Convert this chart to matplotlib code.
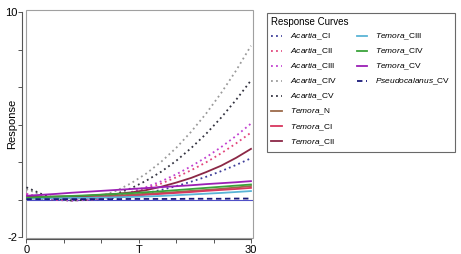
import matplotlib
matplotlib.use('Agg')
import matplotlib.pyplot as plt
from matplotlib.lines import Line2D
from matplotlib.patches import Rectangle

plt.rcParams['font.family'] = 'Liberation Sans'
plt.rcParams['mathtext.fontset'] = 'custom'
plt.rcParams['mathtext.it'] = 'Liberation Sans:italic'
plt.rcParams['mathtext.rm'] = 'Liberation Sans'

# time grid and response values
T = [0, 2, 4, 6, 8, 10, 12, 14, 16, 18, 20, 22, 24, 26, 28, 30]

acartia_CI = [0.20, 0.05, -0.03, -0.05, -0.03, 0.01, 0.09, 0.20, 0.34, 0.51, 0.71, 0.95, 1.21, 1.51, 1.84, 2.20]
acartia_CII = [0.30, 0.08, -0.02, -0.05, -0.02, 0.05, 0.18, 0.35, 0.58, 0.85, 1.18, 1.56, 1.98, 2.46, 2.99, 3.57]
acartia_CIII = [0.30, 0.10, 0.00, -0.05, -0.02, 0.06, 0.21, 0.40, 0.66, 0.97, 1.34, 1.77, 2.25, 2.79, 3.39, 4.05]
acartia_CIV = [0.55, 0.25, 0.03, -0.05, 0.01, 0.18, 0.46, 0.87, 1.38, 2.01, 2.75, 3.61, 4.58, 5.67, 6.87, 8.20]
acartia_CV = [0.65, 0.30, 0.05, -0.05, -0.02, 0.09, 0.30, 0.60, 1.00, 1.48, 2.06, 2.74, 3.50, 4.36, 5.31, 6.35]
temora_N = [0.05, 0.06, 0.08, 0.11, 0.14, 0.17, 0.21, 0.26, 0.31, 0.35, 0.40, 0.46, 0.51, 0.57, 0.64, 0.72]
temora_CI = [0.20, 0.15, 0.12, 0.10, 0.10, 0.12, 0.15, 0.19, 0.25, 0.30, 0.35, 0.40, 0.46, 0.51, 0.56, 0.62]
temora_CII = [0.15, 0.15, 0.16, 0.17, 0.20, 0.25, 0.30, 0.38, 0.50, 0.68, 0.90, 1.15, 1.46, 1.80, 2.22, 2.70]
temora_CIII = [0.05, 0.06, 0.07, 0.08, 0.09, 0.10, 0.12, 0.14, 0.16, 0.19, 0.23, 0.27, 0.31, 0.35, 0.40, 0.45]
temora_CIV = [0.10, 0.13, 0.16, 0.19, 0.22, 0.26, 0.30, 0.34, 0.39, 0.44, 0.50, 0.56, 0.62, 0.68, 0.74, 0.80]
temora_CV = [0.20, 0.25, 0.30, 0.36, 0.41, 0.46, 0.51, 0.56, 0.61, 0.66, 0.71, 0.76, 0.82, 0.87, 0.92, 0.98]
pseudo_CV = [0.02, 0.02, 0.02, 0.02, 0.02, 0.02, 0.02, 0.03, 0.03, 0.03, 0.03, 0.04, 0.04, 0.04, 0.05, 0.05]

series = [
    ('Acartia', '_CI', acartia_CI, '#3d3d99', 'dot'),
    ('Acartia', '_CII', acartia_CII, '#e2457c', 'dot'),
    ('Acartia', '_CIII', acartia_CIII, '#c23fd0', 'dot'),
    ('Acartia', '_CIV', acartia_CIV, '#9a9a9a', 'dot'),
    ('Acartia', '_CV', acartia_CV, '#333340', 'dot'),
    ('Temora', '_N', temora_N, '#9c6a4a', 'solid'),
    ('Temora', '_CI', temora_CI, '#d8365e', 'solid'),
    ('Temora', '_CII', temora_CII, '#8b2846', 'solid'),
    ('Temora', '_CIII', temora_CIII, '#5ab4d6', 'solid'),
    ('Temora', '_CIV', temora_CIV, '#3aa33a', 'solid'),
    ('Temora', '_CV', temora_CV, '#9b1fb5', 'solid'),
    ('Pseudocalanus', '_CV', pseudo_CV, '#1a1a7a', 'dash'),
]
styles = {'dot': (0, (1, 1.8)), 'solid': '-', 'dash': (0, (3, 2))}

fig = plt.figure(figsize=(4.61, 2.54), dpi=100)
ax = fig.add_axes([26 / 461, 1 - 238 / 254, 227 / 461, 228 / 254])

ax.axhline(0, color='#5050c8', linewidth=0.8, zorder=1)
handles, labels = [], []
for genus, stage, vals, col, ls in series:
    ln, = ax.plot(T, vals, color=col, linestyle=styles[ls], linewidth=1.3)
    handles.append(ln)
    labels.append(r'$\it{' + genus + '}$' + stage)

# pad with blank entries so the first column holds eight rows, as in the reference
for _ in range(4):
    handles.append(Line2D([], [], color='none'))
    labels.append('')

ax.set_xlim(-0.05, 30.27)
ax.set_ylim(-2.053, 10.107)
ax.set_xticks([0, 5, 10, 15, 20, 25, 30])
ax.set_xticklabels(['0', '', '', 'T', '', '', '30'])
ax.set_yticks([-2, 0, 2, 4, 6, 8, 10])
ax.set_yticklabels(['-2', '', '', '', '', '', '10'], rotation=90, va='center')
ax.tick_params(labelsize=8, length=3, width=0.7, color='#555555', pad=1)
ax.tick_params(axis='y', pad=0)
ax.set_ylabel('Response', fontsize=8)
ax.yaxis.set_label_coords(-0.04, 0.5)

for s in ['top', 'right']:
    ax.spines[s].set_visible(False)
ax.spines['left'].set_position(('outward', 3))
ax.spines['left'].set_bounds(-2, 10)
ax.spines['bottom'].set_position(('outward', 1))
ax.spines['bottom'].set_bounds(0, 30)
for s in ['left', 'bottom']:
    ax.spines[s].set_color('#555555')
    ax.spines[s].set_linewidth(0.8)
ax.add_patch(Rectangle((0, 0), 1, 1, transform=ax.transAxes, fill=False,
                       edgecolor='#a0a0a0', linewidth=0.8, clip_on=False))

leg = fig.legend(handles, labels, loc='upper left',
                 bbox_to_anchor=(267 / 461, 1 - 13 / 254),
                 ncol=2, fontsize=6, title='Response Curves', title_fontsize=7,
                 alignment='left', frameon=True, fancybox=False,
                 edgecolor='#444444', handlelength=1.3, handletextpad=0.9,
                 labelspacing=0.55, columnspacing=2.4, borderpad=0.5,
                 borderaxespad=0)
leg.get_frame().set_linewidth(0.8)

fig.savefig('out.png', dpi=100)
